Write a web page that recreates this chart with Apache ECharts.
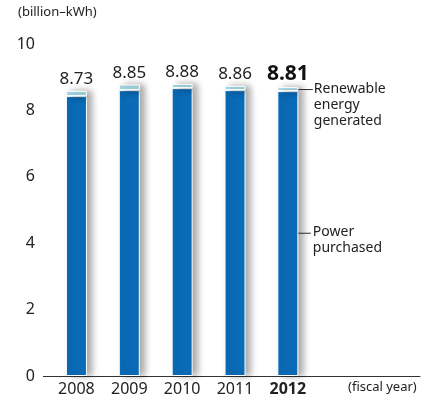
<!DOCTYPE html>
<html>
<head>
<meta charset="utf-8">
<script src="https://cdn.jsdelivr.net/npm/echarts@6/dist/echarts.min.js"></script>
<style>
  html, body { margin: 0; padding: 0; background: #fff; }
  #main { width: 437px; height: 403px; }
</style>
</head>
<body>
<div id="main"></div>
<script>
const years = ["2008", "2009", "2010", "2011", "2012"];
const purchased = [8.43, 8.61, 8.67, 8.61, 8.58];
const renewable = [0.16, 0.17, 0.13, 0.13, 0.12];
const totalLabels = ["8.73", "8.85", "8.88", "8.86", "8.81"];
const yTicks = [0, 2, 4, 6, 8, 10];

const FONT = "Noto Sans";
const DARK = "#0a6cb9";
const LIGHT = "#a6d8e6";

// two empty slots on the right so the axis runs on past 2012
const cats = years.concat(["", ""]);
const last = years.length - 1;

const barShadow = {
  shadowBlur: 7,
  shadowOffsetX: 5,
  shadowOffsetY: 0,
  shadowColor: "rgba(0,0,0,0.35)"
};

const options = {
  animation: false,
  textStyle: { fontFamily: FONT },
  grid: { left: 50, right: 17, top: 44, bottom: 27 },
  xAxis: {
    type: "category",
    data: cats,
    axisLine: { lineStyle: { color: "#333", width: 1 } },
    axisTick: { show: false },
    axisLabel: {
      interval: 0,
      color: "#222",
      fontSize: 16,
      margin: 5,
      formatter: (v) => (v === years[last] ? "{b|" + v + "}" : v),
      rich: { b: { fontWeight: "bold", fontSize: 16, color: "#222", fontFamily: FONT } }
    }
  },
  yAxis: {
    type: "value",
    min: yTicks[0],
    max: yTicks[yTicks.length - 1],
    interval: 2,
    axisLine: { show: false },
    axisTick: { show: false },
    splitLine: { show: false },
    axisLabel: { color: "#222", fontSize: 16, margin: 15 }
  },
  series: [
    {
      name: "Power purchased",
      type: "bar",
      stack: "total",
      barWidth: 21,
      data: purchased,
      itemStyle: Object.assign({ color: DARK, borderColor: "#fff", borderWidth: 1 }, barShadow)
    },
    {
      name: "Renewable energy generated",
      type: "bar",
      stack: "total",
      barWidth: 21,
      data: renewable,
      itemStyle: Object.assign({ color: LIGHT, borderColor: "#fff", borderWidth: 1 }, barShadow),
      label: {
        show: true,
        position: "top",
        distance: 3,
        color: "#222",
        fontSize: 17,
        formatter: (p) => (p.dataIndex === last
          ? "{b|" + totalLabels[p.dataIndex] + "}"
          : totalLabels[p.dataIndex]),
        rich: { b: { fontWeight: "bold", fontSize: 21, color: "#111", fontFamily: FONT } }
      }
    }
  ],
  graphic: [
    {
      type: "text",
      left: 18,
      top: 6,
      style: { text: "(billion–kWh)", fontSize: 13, fill: "#222", fontFamily: FONT }
    },
    {
      type: "text",
      left: 348,
      top: 381,
      style: { text: "(fiscal year)", fontSize: 13, fill: "#222", fontFamily: FONT }
    }
  ]
};

var myChart = echarts.init(document.querySelector("#main"));
myChart.setOption(options);

// leader lines and notes for the 2012 bar, plus the axis stub left of the grid
const cx = myChart.convertToPixel({ xAxisIndex: 0 }, years[last]);
const yRen = myChart.convertToPixel({ yAxisIndex: 0 }, purchased[last] + renewable[last] * 0.4);
const yPow = myChart.convertToPixel({ yAxisIndex: 0 }, 4.3);
const y0 = Math.round(myChart.convertToPixel({ yAxisIndex: 0 }, 0)) + 0.5;
const noteX = cx + 25;
myChart.setOption({
  graphic: options.graphic.concat([
    { type: "line", shape: { x1: 43, y1: y0, x2: 51, y2: y0 }, style: { stroke: "#333", lineWidth: 1 } },
    { type: "line", shape: { x1: cx + 2, y1: yRen, x2: noteX, y2: yRen }, style: { stroke: "#333", lineWidth: 1 } },
    { type: "text", x: noteX + 1, y: yRen - 9, style: { text: "Renewable\nenergy\ngenerated", fontSize: 14, lineHeight: 16, fill: "#222", fontFamily: FONT } },
    { type: "line", shape: { x1: cx - 1, y1: yPow, x2: noteX - 2, y2: yPow }, style: { stroke: "#333", lineWidth: 1 } },
    { type: "text", x: noteX, y: yPow - 9, style: { text: "Power\npurchased", fontSize: 14, lineHeight: 16, fill: "#222", fontFamily: FONT } }
  ])
});

window.onresize = function() {
  myChart.resize();
};
</script>
</body>
</html>
